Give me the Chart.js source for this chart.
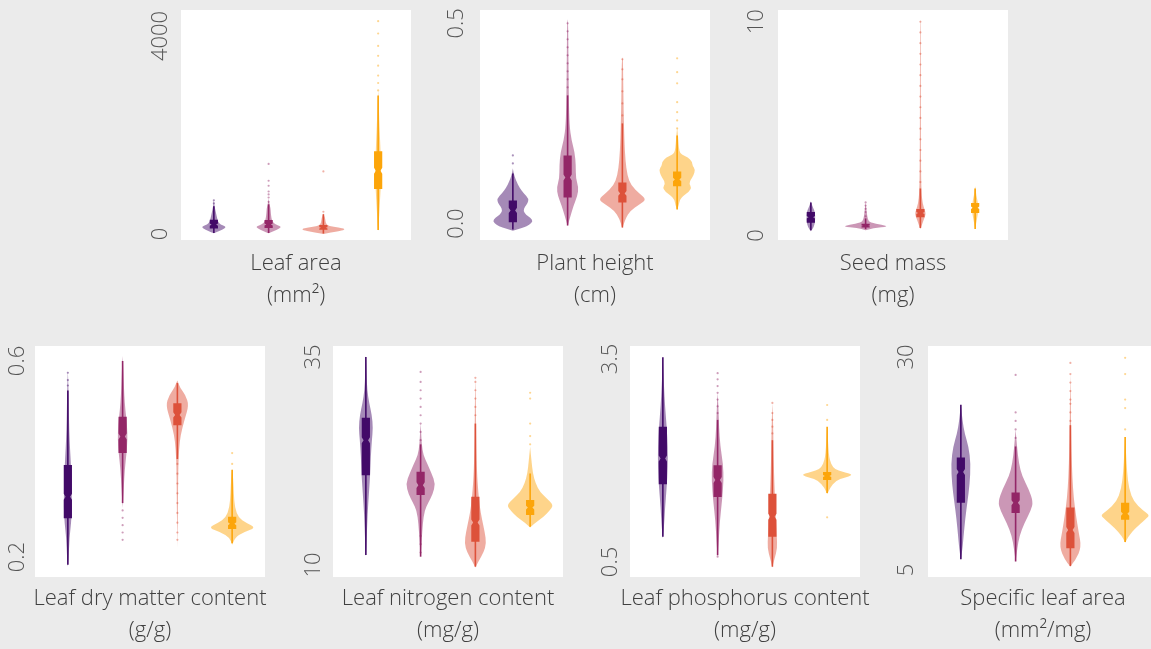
<!DOCTYPE html>
<html>
<head>
<meta charset="utf-8">
<script src="https://cdn.jsdelivr.net/npm/chart.js@4.4.0/dist/chart.umd.min.js"></script>
<style>
    html, body { margin: 0; padding: 0; background: #ebebeb; overflow: hidden; }
    body { width: 1151px; height: 649px; position: relative; }
    canvas { position: absolute; }
</style>
</head>
<body>
<script>
"use strict";

// Groups
const groupColors = ['#420a68', '#932667', '#dd513a', '#fca50a'];
const groupPositions = [1, 2, 3, 4];

// Leaf area (mm²)
const leafAreaTicks = [0, 4000];
const leafAreaTickLabels = ['0', '4000'];
const leafAreaRange = [-121, 4525];
const leafAreaBoxes = [
    [20, 110, 190, 290, 560],
    [20, 120, 190, 285, 600],
    [10, 85, 125, 180, 400],
    [80, 907, 1280, 1670, 2800]
];
const leafAreaDensity = [
    [[15, 0], [60, 0.1], [110, 0.2], [150, 0.22], [190, 0.12], [240, 0.08], [320, 0.06], [420, 0.04], [520, 0.02], [620, 0.006], [680, 0]],
    [[15, 0], [60, 0.1], [110, 0.2], [150, 0.23], [190, 0.12], [250, 0.07], [330, 0.05], [430, 0.04], [520, 0.035], [580, 0.02], [650, 0.008], [720, 0]],
    [[0, 0], [30, 0.15], [70, 0.35], [100, 0.4], [130, 0.28], [160, 0.1], [200, 0.05], [260, 0.04], [330, 0.03], [380, 0.01], [420, 0]],
    [[60, 0], [200, 0.01], [500, 0.025], [900, 0.045], [1200, 0.055], [1500, 0.05], [1900, 0.035], [2300, 0.02], [2700, 0.01], [2900, 0]]
];
const leafAreaOutliers = [
    [620, 680],
    [650, 737, 800, 859, 975, 1076, 1415],
    [450, 1265],
    [2900, 3050, 3200, 3400, 3600, 3800, 4050, 4300]
];

// Plant height (cm)
const plantHeightTicks = [0, 0.5];
const plantHeightTickLabels = ['0.0', '0.5'];
const plantHeightRange = [-0.0412, 0.5332];
const plantHeightBoxes = [
    [-0.015, 0.003, 0.0325, 0.0575, 0.125],
    [-0.005, 0.065, 0.115, 0.17, 0.32],
    [-0.01, 0.0525, 0.075, 0.1025, 0.25],
    [0.035, 0.093, 0.11, 0.13, 0.22]
];
const plantHeightDensity = [
    [[-0.018, 0], [-0.01, 0.2], [-0.004, 0.3], [0.006, 0.37], [0.014, 0.32], [0.022, 0.24], [0.032, 0.19], [0.042, 0.22], [0.05, 0.27], [0.062, 0.29], [0.075, 0.2], [0.09, 0.12], [0.105, 0.065], [0.118, 0.03], [0.128, 0.012], [0.138, 0]],
    [[-0.006, 0], [0.02, 0.055], [0.045, 0.11], [0.07, 0.18], [0.09, 0.2], [0.112, 0.15], [0.145, 0.15], [0.178, 0.13], [0.208, 0.07], [0.245, 0.035], [0.31, 0.022], [0.41, 0.015], [0.5, 0.01], [0.51, 0]],
    [[-0.012, 0], [0.0125, 0.055], [0.0325, 0.15], [0.0475, 0.31], [0.06, 0.44], [0.075, 0.31], [0.095, 0.16], [0.12, 0.09], [0.158, 0.055], [0.208, 0.036], [0.283, 0.022], [0.358, 0.015], [0.41, 0.01], [0.415, 0]],
    [[0.035, 0], [0.045, 0.03], [0.06, 0.05], [0.07, 0.12], [0.08, 0.22], [0.09, 0.26], [0.1, 0.22], [0.11, 0.25], [0.12, 0.3], [0.135, 0.33], [0.145, 0.28], [0.155, 0.27], [0.165, 0.2], [0.172, 0.08], [0.18, 0.04], [0.2, 0.025], [0.22, 0.015], [0.24, 0]]
];
const plantHeightOutliers = [
    [0.15, 0.17],
    [0.34, 0.36, 0.38, 0.4, 0.42, 0.44, 0.46, 0.48, 0.5],
    [0.27, 0.3, 0.33, 0.36, 0.385, 0.41],
    [0.2375, 0.2575, 0.278, 0.303, 0.35, 0.378, 0.4125]
];

// Seed mass (mg)
const seedMassTicks = [0, 10];
const seedMassTickLabels = ['0', '10'];
const seedMassRange = [-0.21, 10.55];
const seedMassBoxes = [
    [0.25, 0.6, 0.85, 1.1, 1.55],
    [0.3, 0.38, 0.45, 0.55, 0.8],
    [0.35, 0.86, 1.05, 1.24, 2.2],
    [0.3, 1.05, 1.3, 1.52, 2.2]
];
const seedMassDensity = [
    [[0.2, 0], [0.3, 0.03], [0.5, 0.07], [0.8, 0.08], [1.1, 0.075], [1.3, 0.04], [1.5, 0.01], [1.6, 0]],
    [[0.25, 0], [0.35, 0.15], [0.42, 0.42], [0.5, 0.3], [0.6, 0.08], [0.75, 0.04], [1.0, 0.025], [1.2, 0.015], [1.4, 0.008], [1.55, 0]],
    [[0.3, 0], [0.5, 0.03], [0.8, 0.07], [1.0, 0.1], [1.2, 0.08], [1.5, 0.04], [2.0, 0.02], [3, 0.012], [5, 0.009], [8, 0.007], [10, 0.005], [10.1, 0]],
    [[0.3, 0], [0.6, 0.02], [1.0, 0.05], [1.3, 0.06], [1.6, 0.045], [1.9, 0.02], [2.2, 0.008], [2.3, 0]]
];
const seedMassOutliers = [
    [],
    [0.9, 1.1, 1.25, 1.4, 1.55],
    [2.5, 3, 3.5, 4, 4.5, 5, 5.5, 6, 6.5, 7, 7.5, 8, 8.5, 9, 9.5, 10],
    []
];

// Leaf dry matter content (g/g)
const ldmcTicks = [0.2, 0.6];
const ldmcTickLabels = ['0.2', '0.6'];
const ldmcRange = [0.1592, 0.6306];
const ldmcBoxes = [
    [0.184, 0.279, 0.323, 0.388, 0.54],
    [0.31, 0.412, 0.446, 0.486, 0.6],
    [0.4, 0.469, 0.49, 0.514, 0.555],
    [0.228, 0.257, 0.268, 0.282, 0.378]
];
const ldmcDensity = [
    [[0.18, 0], [0.2, 0.015], [0.24, 0.03], [0.27, 0.06], [0.3, 0.075], [0.34, 0.07], [0.38, 0.06], [0.42, 0.04], [0.46, 0.025], [0.5, 0.018], [0.54, 0.012], [0.58, 0]],
    [[0.3, 0], [0.34, 0.02], [0.38, 0.04], [0.41, 0.07], [0.44, 0.09], [0.47, 0.08], [0.5, 0.05], [0.53, 0.03], [0.56, 0.02], [0.59, 0.01], [0.61, 0]],
    [[0.22, 0], [0.3, 0.01], [0.38, 0.015], [0.42, 0.03], [0.45, 0.06], [0.48, 0.13], [0.51, 0.21], [0.53, 0.15], [0.545, 0.05], [0.56, 0]],
    [[0.225, 0], [0.24, 0.05], [0.25, 0.2], [0.26, 0.44], [0.27, 0.25], [0.28, 0.12], [0.3, 0.05], [0.33, 0.03], [0.36, 0.02], [0.38, 0]]
];
const ldmcOutliers = [
    [0.55, 0.561, 0.576],
    [0.235, 0.25, 0.265, 0.28, 0.295],
    [0.235, 0.25, 0.27, 0.29, 0.31, 0.33, 0.35, 0.37, 0.39],
    [0.39, 0.412]
];

// Leaf nitrogen content (mg/g)
const leafNTicks = [10, 35];
const leafNTickLabels = ['10', '35'];
const leafNRange = [8.56, 36.32];
const leafNBoxes = [
    [11.2, 20.8, 25.0, 27.7, 35.0],
    [11, 18.4, 19.6, 21.2, 24.5],
    [9.8, 12.8, 15.1, 18.2, 27],
    [14.6, 16.0, 16.9, 17.8, 21]
];
const leafNDensity = [
    [[11, 0], [13, 0.015], [16, 0.03], [19, 0.06], [21, 0.08], [23, 0.09], [25, 0.11], [26.5, 0.13], [28, 0.11], [29.5, 0.06], [31, 0.025], [33, 0.012], [35.2, 0]],
    [[11, 0], [13, 0.02], [15, 0.04], [16.5, 0.07], [17.5, 0.14], [18.5, 0.22], [19.8, 0.27], [21, 0.2], [22.2, 0.12], [23.2, 0.05], [24.5, 0.02], [26, 0.01], [27, 0]],
    [[9.7, 0], [10.5, 0.06], [11.5, 0.15], [12.6, 0.2], [14, 0.17], [15.5, 0.12], [17, 0.08], [19, 0.05], [21, 0.03], [24, 0.018], [27, 0.012], [30, 0.008], [32.5, 0]],
    [[14.5, 0], [15, 0.08], [15.8, 0.25], [16.5, 0.35], [17.2, 0.43], [18, 0.3], [18.8, 0.18], [19.8, 0.1], [21, 0.05], [22.5, 0.025], [24.2, 0]]
];
const leafNOutliers = [
    [],
    [11.5, 12.5, 13.5, 25, 26, 27, 28, 29, 30, 31, 32, 33.2],
    [28, 29, 30, 31, 32, 32.5],
    [24.5, 25.5, 27, 30, 30.7]
];

// Leaf phosphorus content (mg/g)
const leafPTicks = [0.5, 3.5];
const leafPTickLabels = ['0.5', '3.5'];
const leafPRange = [0.278, 3.692];
const leafPBoxes = [
    [0.874, 1.65, 2.03, 2.5, 3.525],
    [0.6, 1.46, 1.71, 1.93, 2.6],
    [0.43, 0.874, 1.17, 1.51, 2.3],
    [1.52, 1.71, 1.77, 1.83, 2.5]
];
const leafPDensity = [
    [[0.85, 0], [1.0, 0.02], [1.3, 0.04], [1.6, 0.07], [1.9, 0.09], [2.2, 0.09], [2.5, 0.07], [2.8, 0.04], [3.1, 0.02], [3.5, 0]],
    [[0.57, 0], [0.8, 0.02], [1.1, 0.04], [1.4, 0.08], [1.7, 0.11], [1.95, 0.1], [2.2, 0.05], [2.5, 0.025], [2.8, 0.015], [3.0, 0]],
    [[0.42, 0], [0.55, 0.04], [0.7, 0.09], [0.9, 0.08], [1.2, 0.06], [1.5, 0.045], [1.8, 0.03], [2.2, 0.02], [2.6, 0.012], [2.85, 0]],
    [[1.5, 0], [1.6, 0.05], [1.7, 0.16], [1.75, 0.32], [1.78, 0.46], [1.81, 0.4], [1.85, 0.2], [1.9, 0.1], [2.0, 0.05], [2.1, 0.03], [2.3, 0.015], [2.5, 0]]
];
const leafPOutliers = [
    [],
    [0.578, 2.7, 2.8, 2.9, 3.0, 3.1, 3.2, 3.29],
    [2.4, 2.5, 2.6, 2.7, 2.85],
    [1.16, 2.6, 2.82]
];

// Specific leaf area (mm²/mg)
const slaTicks = [5, 30];
const slaTickLabels = ['5', '30'];
const slaRange = [4.18, 31.29];
const slaBoxes = [
    [6.25, 12.9, 16.5, 18.2, 24.4],
    [6, 11.7, 12.9, 14.1, 19.5],
    [5.46, 7.54, 9.7, 12.35, 22],
    [8.3, 10.9, 11.6, 12.9, 20.6]
];
const slaDensity = [
    [[6.2, 0], [7.5, 0.03], [9, 0.05], [11, 0.08], [13, 0.12], [15, 0.16], [17.5, 0.18], [19.5, 0.14], [21, 0.07], [22.5, 0.03], [24.4, 0]],
    [[6, 0], [7.5, 0.03], [9, 0.07], [10.5, 0.16], [12, 0.28], [13, 0.32], [14.5, 0.24], [16, 0.12], [17.5, 0.06], [19.5, 0.025], [21.5, 0]],
    [[5.4, 0], [6.2, 0.1], [7.7, 0.2], [9.5, 0.15], [11.5, 0.1], [13.5, 0.06], [16, 0.035], [19, 0.02], [22, 0.012], [25, 0.008], [28, 0]],
    [[8.2, 0], [9, 0.06], [10, 0.2], [11, 0.38], [11.45, 0.45], [12, 0.32], [13, 0.16], [14.5, 0.07], [16.5, 0.035], [18.5, 0.018], [20.6, 0]]
];
const slaOutliers = [
    [],
    [20.5, 21.5, 22.5, 23.5, 27.9],
    [22.5, 23.5, 24.5, 25, 26, 27, 28, 29.3],
    [21.5, 24, 25, 28, 29.9]
];

// Panels
const panels = [
    { title: ['Leaf area', '(mm²)'], ticks: leafAreaTicks, tickLabels: leafAreaTickLabels, range: leafAreaRange, boxes: leafAreaBoxes, density: leafAreaDensity, outliers: leafAreaOutliers, left: 181, top: 10, height: 230, gap: 20.5, titlePad: 8 },
    { title: ['Plant height', '(cm)'], ticks: plantHeightTicks, tickLabels: plantHeightTickLabels, range: plantHeightRange, boxes: plantHeightBoxes, density: plantHeightDensity, outliers: plantHeightOutliers, left: 480, top: 10, height: 230, gap: 23, titlePad: 8 },
    { title: ['Seed mass', '(mg)'], ticks: seedMassTicks, tickLabels: seedMassTickLabels, range: seedMassRange, boxes: seedMassBoxes, density: seedMassDensity, outliers: seedMassOutliers, left: 778, top: 10, height: 230, gap: 21, titlePad: 8 },
    { title: ['Leaf dry matter content', '(g/g)'], ticks: ldmcTicks, tickLabels: ldmcTickLabels, range: ldmcRange, boxes: ldmcBoxes, density: ldmcDensity, outliers: ldmcOutliers, left: 35, top: 346, height: 231, gap: 17, titlePad: 6 },
    { title: ['Leaf nitrogen content', '(mg/g)'], ticks: leafNTicks, tickLabels: leafNTickLabels, range: leafNRange, boxes: leafNBoxes, density: leafNDensity, outliers: leafNOutliers, left: 333, top: 346, height: 231, gap: 19, titlePad: 6 },
    { title: ['Leaf phosphorus content', '(mg/g)'], ticks: leafPTicks, tickLabels: leafPTickLabels, range: leafPRange, boxes: leafPBoxes, density: leafPDensity, outliers: leafPOutliers, left: 630, top: 346, height: 231, gap: 19, titlePad: 6 },
    { title: ['Specific leaf area', '(mm²/mg)'], ticks: slaTicks, tickLabels: slaTickLabels, range: slaRange, boxes: slaBoxes, density: slaDensity, outliers: slaOutliers, left: 928, top: 346, height: 231, gap: 21.5, titlePad: 6 }
];

const fontFamily = "'Open Sans', sans-serif";
const tickFont = { size: 22, weight: 300 };
const axisWidth = 45;
const plotWidth = 230;
const padTop = 10;
const titleLine = 32;

Chart.defaults.font.family = fontFamily;

// Convert HEX TO RGBA
function hexToRGBA(hex, opacity) {
    const n = parseInt(hex.replace('#', ''), 16);
    return 'rgba(' + (n >> 16 & 255) + ',' + (n >> 8 & 255) + ',' + (n & 255) + ',' + opacity + ')';
}

const measureCtx = document.createElement('canvas').getContext('2d');
measureCtx.font = tickFont.weight + ' ' + tickFont.size + 'px ' + fontFamily;

function smoothSide(ctx, pts, first) {
    if (first) ctx.moveTo(pts[0][0], pts[0][1]);
    else ctx.lineTo(pts[0][0], pts[0][1]);
    for (let k = 1; k < pts.length - 1; k++) {
        const mx = (pts[k][0] + pts[k + 1][0]) / 2;
        const my = (pts[k][1] + pts[k + 1][1]) / 2;
        ctx.quadraticCurveTo(pts[k][0], pts[k][1], mx, my);
    }
    const last = pts[pts.length - 1];
    ctx.lineTo(last[0], last[1]);
}

// Violins and notched boxes drawn through the chart scales
function violinPlugin(panel) {
    return {
        id: 'violins',
        beforeDraw(chart) {
            const { ctx, chartArea: a } = chart;
            ctx.save();
            ctx.fillStyle = '#ffffff';
            ctx.fillRect(a.left, a.top, a.width, a.height);
            ctx.restore();
        },
        beforeDatasetsDraw(chart) {
            const { ctx, chartArea: a, scales: { x, y } } = chart;
            ctx.save();
            ctx.beginPath();
            ctx.rect(a.left, a.top, a.width, a.height);
            ctx.clip();

            panel.density.forEach((profile, i) => {
                const pos = groupPositions[i];
                const right = profile.map(([v, w]) => [x.getPixelForValue(pos + w), y.getPixelForValue(v)]);
                const left = profile.map(([v, w]) => [x.getPixelForValue(pos - w), y.getPixelForValue(v)]).reverse();
                ctx.beginPath();
                smoothSide(ctx, right, true);
                smoothSide(ctx, left, false);
                ctx.closePath();
                ctx.fillStyle = hexToRGBA(groupColors[i], 0.48);
                ctx.fill();
            });

            panel.boxes.forEach(([lo, q1, med, q3, hi], i) => {
                const pos = groupPositions[i];
                const color = groupColors[i];
                const cx = x.getPixelForValue(pos);
                const bw = x.getPixelForValue(pos + 0.075) - cx;

                ctx.strokeStyle = color;
                ctx.lineWidth = 1.6;
                ctx.beginPath();
                ctx.moveTo(cx, y.getPixelForValue(lo));
                ctx.lineTo(cx, y.getPixelForValue(hi));
                ctx.stroke();

                const y1 = y.getPixelForValue(q1);
                const y3 = y.getPixelForValue(q3);
                const ym = y.getPixelForValue(med);
                const nh = Math.min(3, (y1 - y3) * 0.12);
                const nw = bw * 0.55;
                ctx.beginPath();
                ctx.moveTo(cx - bw, y3);
                ctx.lineTo(cx + bw, y3);
                ctx.lineTo(cx + bw, ym - nh);
                ctx.lineTo(cx + nw, ym);
                ctx.lineTo(cx + bw, ym + nh);
                ctx.lineTo(cx + bw, y1);
                ctx.lineTo(cx - bw, y1);
                ctx.lineTo(cx - bw, ym + nh);
                ctx.lineTo(cx - nw, ym);
                ctx.lineTo(cx - bw, ym - nh);
                ctx.closePath();
                ctx.fillStyle = color;
                ctx.fill();
            });
            ctx.restore();
        }
    };
}

panels.forEach(panel => {
    const canvas = document.createElement('canvas');
    canvas.width = axisWidth * 2 + plotWidth;
    canvas.height = padTop + panel.height + panel.titlePad + 2 * titleLine;
    canvas.style.left = (panel.left - axisWidth) + 'px';
    canvas.style.top = (panel.top - padTop) + 'px';
    document.body.appendChild(canvas);

    const widest = Math.max(...panel.tickLabels.map(t => measureCtx.measureText(t).width));
    const tickPadding = panel.gap - widest / 2;

    new Chart(canvas.getContext('2d'), {
        type: 'scatter',
        data: {
            datasets: panel.outliers.map((vals, i) => ({
                data: vals.map(v => ({ x: groupPositions[i], y: v })),
                pointRadius: 1.1,
                pointBackgroundColor: hexToRGBA(groupColors[i], 0.45),
                pointBorderWidth: 0,
                pointHoverRadius: 1.1
            }))
        },
        options: {
            responsive: false,
            animation: false,
            events: [],
            layout: { padding: { top: padTop, left: 0, right: 0, bottom: 0 }, autoPadding: false },
            scales: {
                x: { type: 'linear', min: 0.4, max: 4.6, display: false },
                y: {
                    type: 'linear',
                    position: 'left',
                    min: panel.range[0],
                    max: panel.range[1],
                    bounds: 'data',
                    afterBuildTicks: s => { s.ticks = panel.ticks.map(v => ({ value: v })); },
                    afterFit: s => { s.width = axisWidth; s.paddingTop = 0; s.paddingBottom = 0; },
                    grid: { display: false, drawTicks: false },
                    border: { display: false },
                    ticks: {
                        autoSkip: false,
                        minRotation: 90,
                        maxRotation: 90,
                        crossAlign: 'center',
                        padding: tickPadding,
                        color: '#555555',
                        font: { size: tickFont.size, weight: tickFont.weight, lineHeight: 0.1 },
                        callback: (value, index) => panel.tickLabels[index]
                    }
                },
                yRight: {
                    type: 'linear',
                    position: 'right',
                    display: true,
                    afterFit: s => { s.width = axisWidth; s.paddingTop = 0; s.paddingBottom = 0; },
                    grid: { display: false, drawTicks: false },
                    border: { display: false },
                    ticks: { display: false }
                }
            },
            plugins: {
                legend: { display: false },
                tooltip: { enabled: false },
                title: {
                    display: true,
                    position: 'bottom',
                    text: panel.title,
                    color: '#404040',
                    padding: { top: panel.titlePad, bottom: 0 },
                    font: { size: 22, weight: 300, lineHeight: titleLine + 'px' }
                }
            }
        },
        plugins: [violinPlugin(panel)]
    });
});
</script>
</body>
</html>
